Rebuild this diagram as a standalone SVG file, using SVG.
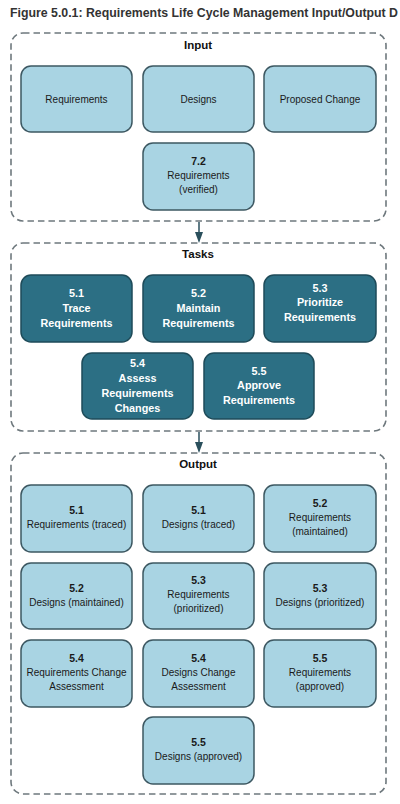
<svg xmlns="http://www.w3.org/2000/svg" width="400" height="804" viewBox="0 0 400 804">
<style>
.bg{fill:#ffffff}
.title{font-family:"Liberation Sans",Arial,sans-serif;font-weight:bold;font-size:12px;fill:#333333}
.grp{fill:none;stroke:#6e787d;stroke-width:1.6;stroke-dasharray:6.5 4}
.glabel{font-family:"Liberation Sans",Arial,sans-serif;font-weight:bold;font-size:11.5px;fill:#111;text-anchor:middle}
.lt{fill:#a9d4e3;stroke:#3d5862;stroke-width:1.5}
.dk{fill:#2c6f84;stroke:#1e4b59;stroke-width:1.5}
.t{font-family:"Liberation Sans",Arial,sans-serif;font-size:10px;fill:#1a1a1a;text-anchor:middle}
.tb{font-weight:bold;font-size:10.5px}
.w{font-family:"Liberation Sans",Arial,sans-serif;font-weight:bold;font-size:10.8px;fill:#ffffff;text-anchor:middle}
.conn{stroke:#2a4f5c;stroke-width:1.5;fill:none}
.head{fill:#2a4f5c}
</style>
<rect class="bg" x="0" y="0" width="400" height="804"/>
<text class="title" x="10" y="17" textLength="388" lengthAdjust="spacingAndGlyphs">Figure 5.0.1: Requirements Life Cycle Management Input/Output D</text>

<g id="input-group">
<rect class="grp" x="11" y="33" width="375" height="188" rx="12"/>
<text class="glabel" x="198" y="49">Input</text>
</g>
<g id="tasks-group">
<rect class="grp" x="11" y="243" width="375" height="188" rx="12"/>
<text class="glabel" x="198" y="258">Tasks</text>
</g>
<g id="output-group">
<rect class="grp" x="11" y="453" width="375" height="341" rx="12"/>
<text class="glabel" x="198" y="468">Output</text>
</g>

<g id="connectors">
<line class="conn" x1="199" y1="222" x2="199" y2="234"/>
<polygon class="head" points="195,232 203,232 199,243"/>
<line class="conn" x1="199" y1="432" x2="199" y2="444"/>
<polygon class="head" points="195,442 203,442 199,453"/>
</g>

<!-- Input nodes -->
<g id="in-requirements">
<rect class="lt" x="21" y="66" width="111" height="66" rx="10"/>
<text class="t" x="76.5" y="103">Requirements</text>
</g>
<g id="in-designs">
<rect class="lt" x="143" y="66" width="111" height="66" rx="10"/>
<text class="t" x="198.5" y="103">Designs</text>
</g>
<g id="in-proposed-change">
<rect class="lt" x="264" y="66" width="112" height="66" rx="10"/>
<text class="t" x="320" y="103">Proposed Change</text>
</g>
<g id="in-7-2">
<rect class="lt" x="143" y="143" width="111" height="67" rx="10"/>
<text class="t tb" x="198.5" y="165">7.2</text>
<text class="t" x="198.5" y="179">Requirements</text>
<text class="t" x="198.5" y="193">(verified)</text>
</g>

<!-- Task nodes -->
<g id="task-5-1">
<rect class="dk" x="21" y="275" width="111" height="67" rx="10"/>
<text class="w" x="76.5" y="297">5.1</text>
<text class="w" x="76.5" y="312">Trace</text>
<text class="w" x="76.5" y="327">Requirements</text>
</g>
<g id="task-5-2">
<rect class="dk" x="143" y="275" width="111" height="67" rx="10"/>
<text class="w" x="198.5" y="297">5.2</text>
<text class="w" x="198.5" y="312">Maintain</text>
<text class="w" x="198.5" y="327">Requirements</text>
</g>
<g id="task-5-3">
<rect class="dk" x="264" y="275" width="112" height="67" rx="10"/>
<text class="w" x="320" y="292">5.3</text>
<text class="w" x="320" y="306">Prioritize</text>
<text class="w" x="320" y="321">Requirements</text>
</g>
<g id="task-5-4">
<rect class="dk" x="82" y="353" width="111" height="66" rx="10"/>
<text class="w" x="137.5" y="367">5.4</text>
<text class="w" x="137.5" y="382">Assess</text>
<text class="w" x="137.5" y="397">Requirements</text>
<text class="w" x="137.5" y="412">Changes</text>
</g>
<g id="task-5-5">
<rect class="dk" x="204" y="353" width="110" height="66" rx="10"/>
<text class="w" x="259" y="375">5.5</text>
<text class="w" x="259" y="389">Approve</text>
<text class="w" x="259" y="404">Requirements</text>
</g>

<!-- Output nodes -->
<g id="out-5-1-req">
<rect class="lt" x="21" y="485" width="111" height="67" rx="10"/>
<text class="t tb" x="76.5" y="514">5.1</text>
<text class="t" x="76.5" y="528">Requirements (traced)</text>
</g>
<g id="out-5-1-des">
<rect class="lt" x="143" y="485" width="111" height="67" rx="10"/>
<text class="t tb" x="198.5" y="514">5.1</text>
<text class="t" x="198.5" y="528">Designs (traced)</text>
</g>
<g id="out-5-2-req">
<rect class="lt" x="264" y="485" width="112" height="67" rx="10"/>
<text class="t tb" x="320" y="507">5.2</text>
<text class="t" x="320" y="521">Requirements</text>
<text class="t" x="320" y="535">(maintained)</text>
</g>
<g id="out-5-2-des">
<rect class="lt" x="21" y="563" width="111" height="66" rx="10"/>
<text class="t tb" x="76.5" y="592">5.2</text>
<text class="t" x="76.5" y="606">Designs (maintained)</text>
</g>
<g id="out-5-3-req">
<rect class="lt" x="143" y="563" width="111" height="66" rx="10"/>
<text class="t tb" x="198.5" y="584">5.3</text>
<text class="t" x="198.5" y="598">Requirements</text>
<text class="t" x="198.5" y="612">(prioritized)</text>
</g>
<g id="out-5-3-des">
<rect class="lt" x="264" y="563" width="112" height="66" rx="10"/>
<text class="t tb" x="320" y="592">5.3</text>
<text class="t" x="320" y="606">Designs (prioritized)</text>
</g>
<g id="out-5-4-req">
<rect class="lt" x="21" y="640" width="111" height="67" rx="10"/>
<text class="t tb" x="76.5" y="662">5.4</text>
<text class="t" x="76.5" y="676">Requirements Change</text>
<text class="t" x="76.5" y="690">Assessment</text>
</g>
<g id="out-5-4-des">
<rect class="lt" x="143" y="640" width="111" height="67" rx="10"/>
<text class="t tb" x="198.5" y="662">5.4</text>
<text class="t" x="198.5" y="676">Designs Change</text>
<text class="t" x="198.5" y="690">Assessment</text>
</g>
<g id="out-5-5-req">
<rect class="lt" x="264" y="640" width="112" height="67" rx="10"/>
<text class="t tb" x="320" y="662">5.5</text>
<text class="t" x="320" y="676">Requirements</text>
<text class="t" x="320" y="690">(approved)</text>
</g>
<g id="out-5-5-des">
<rect class="lt" x="143" y="717" width="111" height="67" rx="10"/>
<text class="t tb" x="198.5" y="746">5.5</text>
<text class="t" x="198.5" y="760">Designs (approved)</text>
</g>
</svg>
